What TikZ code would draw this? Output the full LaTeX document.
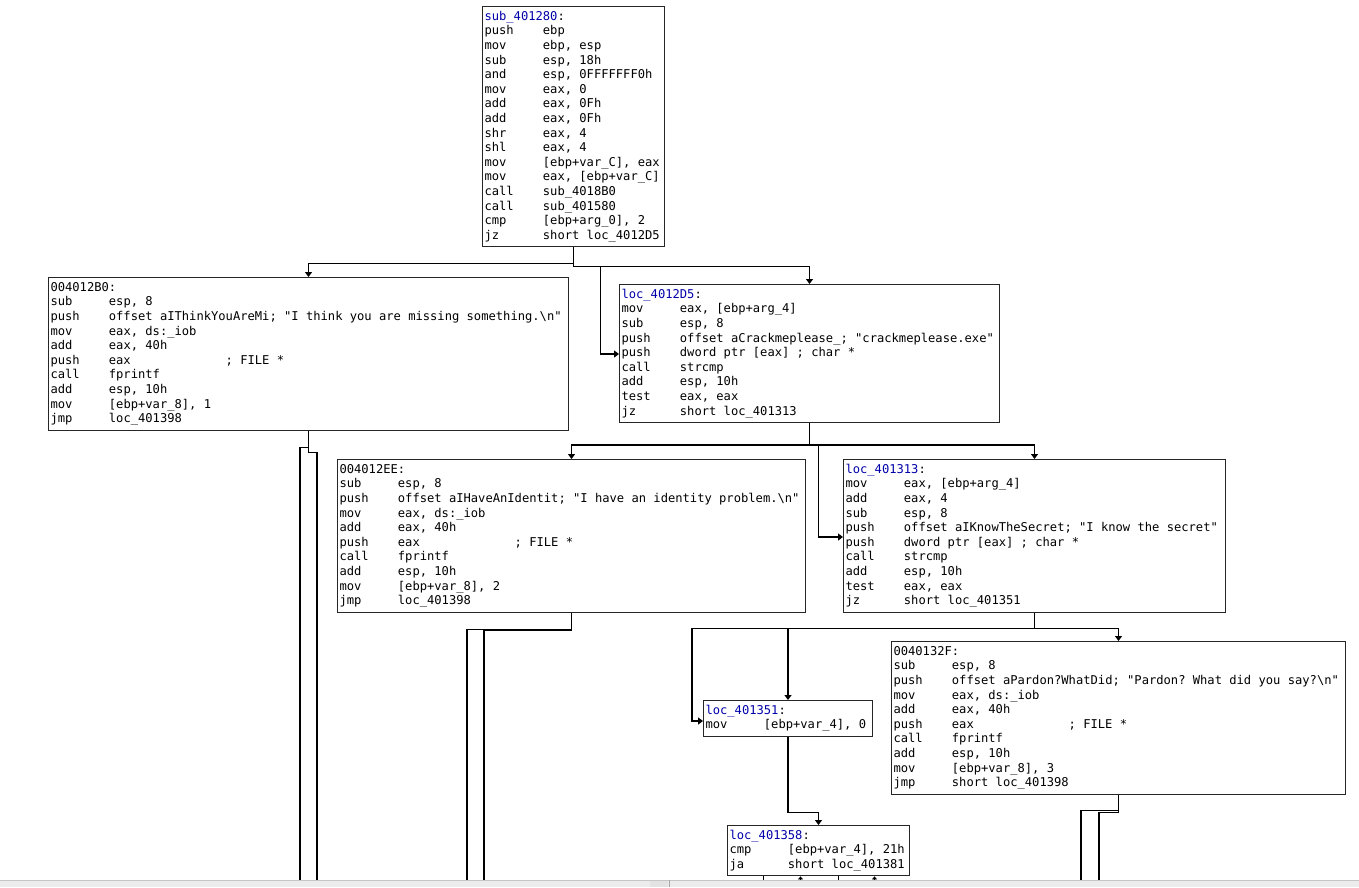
\documentclass[tikz,border=0pt]{standalone}
\usepackage{fontspec}
\usetikzlibrary{arrows.meta}
\newfontfamily\asmfont{DejaVu Sans Mono}
\definecolor{lblblue}{RGB}{0,0,170}
\definecolor{barfill}{RGB}{236,236,236}
% one listing line: mnemonic column, then operands (fixed-width spaces)
\newcommand\al[2]{\makebox[58.4pt][l]{#1}\mbox{\spaceskip=7.3pt\xspaceskip=7.3pt\relax #2}\rule[-4.1pt]{0pt}{14.6pt}}
\newcommand\lbl[1]{\textcolor{lblblue}{#1}:\rule[-4.1pt]{0pt}{14.6pt}}
\newcommand\adr[1]{#1:\rule[-4.1pt]{0pt}{14.6pt}}

\begin{document}
\begin{tikzpicture}[x=1pt, y=-1pt,
    asmbox/.style={draw=black!85, line width=1pt, anchor=north west, align=left,
      inner xsep=2pt, inner ysep=3.3pt,
      font={\asmfont\fontsize{12.13}{14.6}\selectfont}},
    flow/.style={line width=1.2pt, -{Triangle[length=5pt,width=7pt]}},
    wire/.style={line width=1.2pt}]
  \useasboundingbox (0,0) rectangle (1359,887);

  \node[asmbox, text width=178pt] (sub401280) at (482,6) {%
    \lbl{sub\_401280}\\
    \al{push}{ebp}\\
    \al{mov}{ebp, esp}\\
    \al{sub}{esp, 18h}\\
    \al{and}{esp, 0FFFFFFF0h}\\
    \al{mov}{eax, 0}\\
    \al{add}{eax, 0Fh}\\
    \al{add}{eax, 0Fh}\\
    \al{shr}{eax, 4}\\
    \al{shl}{eax, 4}\\
    \al{mov}{[ebp+var\_C], eax}\\
    \al{mov}{eax, [ebp+var\_C]}\\
    \al{call}{sub\_4018B0}\\
    \al{call}{sub\_401580}\\
    \al{cmp}{[ebp+arg\_0], 2}\\
    \al{jz}{short loc\_4012D5}};

  \node[asmbox, text width=516pt] (b4012b0) at (48,277) {%
    \adr{004012B0}\\
    \al{sub}{esp, 8}\\
    \al{push}{offset aIThinkYouAreMi; "I think you are missing something.\textbackslash n"}\\
    \al{mov}{eax, ds:\_iob}\\
    \al{add}{eax, 40h}\\
    \al{push}{\makebox[116.8pt][l]{eax}; FILE *}\\
    \al{call}{fprintf}\\
    \al{add}{esp, 10h}\\
    \al{mov}{[ebp+var\_8], 1}\\
    \al{jmp}{loc\_401398}};

  \node[asmbox, text width=376pt] (loc4012d5) at (619,284) {%
    \lbl{loc\_4012D5}\\
    \al{mov}{eax, [ebp+arg\_4]}\\
    \al{sub}{esp, 8}\\
    \al{push}{offset aCrackmeplease\_; "crackmeplease.exe"}\\
    \al{push}{dword ptr [eax] ; char *}\\
    \al{call}{strcmp}\\
    \al{add}{esp, 10h}\\
    \al{test}{eax, eax}\\
    \al{jz}{short loc\_401313}};

  \node[asmbox, text width=464pt] (b4012ee) at (337,459) {%
    \adr{004012EE}\\
    \al{sub}{esp, 8}\\
    \al{push}{offset aIHaveAnIdentit; "I have an identity problem.\textbackslash n"}\\
    \al{mov}{eax, ds:\_iob}\\
    \al{add}{eax, 40h}\\
    \al{push}{\makebox[116.8pt][l]{eax}; FILE *}\\
    \al{call}{fprintf}\\
    \al{add}{esp, 10h}\\
    \al{mov}{[ebp+var\_8], 2}\\
    \al{jmp}{loc\_401398}};

  \node[asmbox, text width=378pt] (loc401313) at (843,459) {%
    \lbl{loc\_401313}\\
    \al{mov}{eax, [ebp+arg\_4]}\\
    \al{add}{eax, 4}\\
    \al{sub}{esp, 8}\\
    \al{push}{offset aIKnowTheSecret; "I know the secret"}\\
    \al{push}{dword ptr [eax] ; char *}\\
    \al{call}{strcmp}\\
    \al{add}{esp, 10h}\\
    \al{test}{eax, eax}\\
    \al{jz}{short loc\_401351}};

  \node[asmbox, text width=450pt] (b40132f) at (891,641) {%
    \adr{0040132F}\\
    \al{sub}{esp, 8}\\
    \al{push}{offset aPardon?WhatDid; "Pardon? What did you say?\textbackslash n"}\\
    \al{mov}{eax, ds:\_iob}\\
    \al{add}{eax, 40h}\\
    \al{push}{\makebox[116.8pt][l]{eax}; FILE *}\\
    \al{call}{fprintf}\\
    \al{add}{esp, 10h}\\
    \al{mov}{[ebp+var\_8], 3}\\
    \al{jmp}{short loc\_401398}};

  \node[asmbox, text width=165pt] (loc401351) at (703,700) {%
    \lbl{loc\_401351}\\
    \al{mov}{[ebp+var\_4], 0}};

  \node[asmbox, text width=178pt] (loc401358) at (727,825) {%
    \lbl{loc\_401358}\\
    \al{cmp}{[ebp+var\_4], 21h}\\
    \al{ja}{short loc\_401381}};

  % loose ends that run off the bottom of the view
  \coordinate (cutA) at (300,880);
  \coordinate (cutB) at (317,880);
  \coordinate (cutC) at (467,880);
  \coordinate (cutD) at (484,880);
  \coordinate (cutE) at (1081,880);
  \coordinate (cutF) at (1099,880);

  \draw[flow] (sub401280.south) -- ++(0,16) -| (b4012b0.north);
  \draw[flow] (sub401280.south) -- ++(0,19) -| (loc4012d5.north);
  \draw[flow] (sub401280.south) ++(0,19) -- ++(27,0) |- ([yshift=-70pt]loc4012d5.north west);

  \draw[wire] (b4012b0.south) -- ++(0,17) -| (cutA);
  \draw[wire] (b4012b0.south) -- ++(0,22) -| (cutB);

  \draw[flow] (loc4012d5.south) -- ++(0,22) -| (b4012ee.north);
  \draw[flow] (loc4012d5.south) -- ++(0,22) -| (loc401313.north);
  \draw[flow] (loc4012d5.south) ++(0,22) -- ++(9,0) |- ([yshift=-78pt]loc401313.north west);

  \draw[wire] (b4012ee.south) -- ++(0,17) -| (cutC);
  \draw[wire] (b4012ee.south) -- ++(0,18) -| (cutD);

  \draw[flow] (loc401313.south) -- ++(0,16) -| (loc401351.north);
  \draw[flow] (loc401313.south) -- ++(0,16) -| (b40132f.north);
  \draw[flow] (loc401313.south) ++(0,16) -| ([xshift=-11pt,yshift=-21pt]loc401351.north west)
    -- ([yshift=-21pt]loc401351.north west);

  \draw[wire] (b40132f.south) -- ++(0,18) -| (cutF);
  \draw[wire] (b40132f.south) -- ++(0,16) -| (cutE);

  \draw[flow] (loc401351.south) -- ++(0,76) -| (loc401358.north);

  \draw[wire] ([xshift=-55pt]loc401358.south) -- ++(0,5);
  \draw[wire] ([xshift=20pt]loc401358.south) -- ++(0,5);
  \draw[line width=1pt, -{Triangle[length=3pt,width=5pt]}] ([xshift=-18pt,yshift=-5pt]loc401358.south) -- ([xshift=-18pt]loc401358.south);
  \draw[line width=1pt, -{Triangle[length=3pt,width=5pt]}] ([xshift=56pt,yshift=-5pt]loc401358.south) -- ([xshift=56pt]loc401358.south);

  % scroll bar strip
  \fill[barfill] (0,880) rectangle (1359,887);
  \draw[gray!45] (0,880.5) -- (1359,880.5);
  \fill[gray!22] (650,881) rectangle (668,887);
  \draw[gray!70] (669,880) -- (669,887);
\end{tikzpicture}
\end{document}
